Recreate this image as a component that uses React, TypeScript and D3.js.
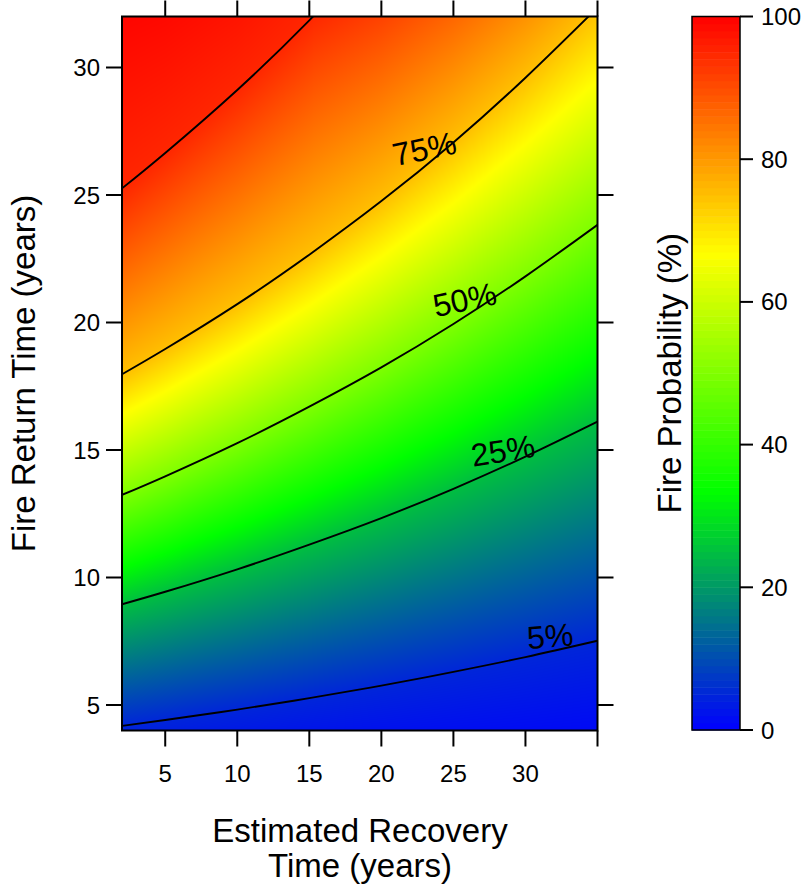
import { useEffect, useRef } from 'react';
import * as d3 from 'd3';

// Recovery time samples (x) and the fire return time (y) where each contour crosses them
const recoveryTimes = [2, 5, 10, 15, 20, 25, 30, 35];
const contourLevels = [5, 25, 50, 75, 95];
const contour5 = [4.18, 4.41, 4.82, 5.27, 5.76, 6.3, 6.88, 7.52];
const contour25 = [8.95, 9.44, 10.32, 11.29, 12.33, 13.48, 14.74, 16.11];
const contour50 = [13.24, 13.97, 15.27, 16.7, 18.24, 19.94, 21.81, 23.83];
const contour75 = [17.97, 18.96, 20.72, 22.66, 24.76, 27.06, 29.6, 32.35];
const contour95 = [25.26, 26.65, 29.12, 31.85, 34.81, null, null, null];
// probability along the bottom (4 yr) and top (32 yr) edges of the plot
const bottomEdgeProb = [4.5, 4.0, 3.3, 2.7, 2.2, 1.8, 1.5, 1.2];
const topEdgeProb = [99.4, 98.9, 97.4, 95.1, 91.4, 86.6, 80.9, 74.2];

// contour labels
const labelLevels = [5, 25, 50, 75];
const labelX = [31.8, 28.6, 26.0, 23.2];
const labelAngle = [-5, -9, -12, -12];

const xTicks = [5, 10, 15, 20, 25, 30, 35];
const xTickLabels = ['5', '10', '15', '20', '25', '30', ''];
const yTicks = [5, 10, 15, 20, 25, 30];
const colorTicks = [0, 20, 40, 60, 80, 100];

const FONT = '"Liberation Sans", Arial, Helvetica, sans-serif';

export default function App() {
  const svgRef = useRef<SVGSVGElement>(null);

  useEffect(() => {
    if (!svgRef.current) return;
    const svg = d3.select(svgRef.current);
    svg.selectAll('*').remove();

    const left = 122, right = 597.5, top = 16.5, bottom = 730.5;
    const x = d3.scaleLinear().domain([2, 35]).range([left, right]);
    const y = d3.scaleLinear().domain([4, 32]).range([bottom, top]);
    const color = d3.scaleLinear<string>()
      .domain([0, 100 / 3, 200 / 3, 100])
      .range(['#0000ff', '#00ff00', '#ffff00', '#ff0000'])
      .interpolate(d3.interpolateRgb)
      .clamp(true);

    const curves = [contour5, contour25, contour50, contour75, contour95];

    // fire return time of a contour at recovery time rx
    const interpAt = (arr: (number | null)[], rx: number) => {
      for (let i = 0; i < recoveryTimes.length - 1; i++) {
        const x0 = recoveryTimes[i], x1 = recoveryTimes[i + 1];
        if (rx >= x0 && rx <= x1) {
          const a = arr[i], b = arr[i + 1];
          if (a == null || b == null) return null;
          return a + (b - a) * (rx - x0) / (x1 - x0);
        }
      }
      return null;
    };

    // --- heat field into a canvas ---
    const w = Math.round(right - left), h = Math.round(bottom - top);
    const canvas = document.createElement('canvas');
    canvas.width = w;
    canvas.height = h;
    const ctx = canvas.getContext('2d')!;
    const img = ctx.createImageData(w, h);
    for (let i = 0; i < w; i++) {
      const rx = x.invert(left + i + 0.5);
      const knots: [number, number][] = [[4, interpAt(bottomEdgeProb, rx)!]];
      curves.forEach((c, k) => {
        const fy = interpAt(c, rx);
        if (fy != null && fy < 32) knots.push([fy, contourLevels[k]]);
      });
      knots.push([32, interpAt(topEdgeProb, rx)!]);
      knots.sort((a, b) => a[0] - b[0]);
      for (let j = 0; j < h; j++) {
        const fy = y.invert(top + j + 0.5);
        let v = knots[0][1];
        for (let k = 0; k < knots.length - 1; k++) {
          if (fy >= knots[k][0] && fy <= knots[k + 1][0]) {
            const t = (fy - knots[k][0]) / (knots[k + 1][0] - knots[k][0]);
            v = knots[k][1] + (knots[k + 1][1] - knots[k][1]) * t;
            break;
          }
          if (fy > knots[k + 1][0]) v = knots[k + 1][1];
        }
        const c = d3.rgb(color(v));
        const p = (j * w + i) * 4;
        img.data[p] = c.r;
        img.data[p + 1] = c.g;
        img.data[p + 2] = c.b;
        img.data[p + 3] = 255;
      }
    }
    ctx.putImageData(img, 0, 0);

    svg.append('image')
      .attr('x', left).attr('y', top)
      .attr('width', right - left).attr('height', bottom - top)
      .attr('preserveAspectRatio', 'none')
      .attr('href', canvas.toDataURL());

    // clip for contour lines
    svg.append('defs').append('clipPath').attr('id', 'plotClip')
      .append('rect')
      .attr('x', left).attr('y', top)
      .attr('width', right - left).attr('height', bottom - top);

    const line = d3.line<[number, number]>()
      .x(d => x(d[0]))
      .y(d => y(d[1]))
      .curve(d3.curveNatural);

    const lines = svg.append('g').attr('clip-path', 'url(#plotClip)');
    curves.forEach(c => {
      const pts = recoveryTimes
        .map((rx, i) => [rx, c[i]] as [number, number | null])
        .filter(d => d[1] != null) as [number, number][];
      lines.append('path')
        .attr('d', line(pts))
        .attr('fill', 'none')
        .attr('stroke', '#000')
        .attr('stroke-width', 1.9);
    });

    // contour labels
    labelLevels.forEach((lv, i) => {
      const c = curves[contourLevels.indexOf(lv)];
      const fy = interpAt(c, labelX[i])!;
      const px = x(labelX[i]), py = y(fy);
      svg.append('text')
        .attr('transform', `translate(${px},${py}) rotate(${labelAngle[i]}) translate(0,-4)`)
        .attr('text-anchor', 'middle')
        .attr('font-family', FONT)
        .attr('font-size', 32)
        .attr('fill', '#000')
        .text(`${lv}%`);
    });

    // frame
    svg.append('rect')
      .attr('x', left).attr('y', top)
      .attr('width', right - left).attr('height', bottom - top)
      .attr('fill', 'none').attr('stroke', '#000').attr('stroke-width', 2);

    const tickLen = 16;
    const axes = svg.append('g').attr('stroke', '#000').attr('stroke-width', 2);
    xTicks.forEach(t => {
      axes.append('line').attr('x1', x(t)).attr('x2', x(t)).attr('y1', bottom).attr('y2', bottom + tickLen);
      axes.append('line').attr('x1', x(t)).attr('x2', x(t)).attr('y1', top).attr('y2', top - tickLen);
    });
    yTicks.forEach(t => {
      axes.append('line').attr('x1', left).attr('x2', left - tickLen).attr('y1', y(t)).attr('y2', y(t));
      axes.append('line').attr('x1', right).attr('x2', right + tickLen).attr('y1', y(t)).attr('y2', y(t));
    });

    const labels = svg.append('g').attr('font-family', FONT).attr('font-size', 24).attr('fill', '#000');
    xTicks.forEach((t, i) => {
      labels.append('text').attr('x', x(t)).attr('y', 782)
        .attr('text-anchor', 'middle').text(xTickLabels[i]);
    });
    yTicks.forEach(t => {
      labels.append('text').attr('x', 100).attr('y', y(t) + 8.5)
        .attr('text-anchor', 'end').text(t);
    });

    // axis titles
    const titles = svg.append('g').attr('font-family', FONT).attr('font-size', 33).attr('fill', '#000');
    titles.append('text').attr('x', 360).attr('y', 842).attr('text-anchor', 'middle').text('Estimated Recovery');
    titles.append('text').attr('x', 360).attr('y', 877).attr('text-anchor', 'middle').text('Time (years)');
    titles.append('text')
      .attr('transform', `translate(35,${(top + bottom) / 2}) rotate(-90)`)
      .attr('text-anchor', 'middle').text('Fire Return Time (years)');

    // --- colour key ---
    const cbLeft = 692, cbRight = 740;
    const cy = d3.scaleLinear().domain([0, 100]).range([730, 16.5]);
    const key = svg.append('g');
    d3.range(0, 100).forEach(v => {
      key.append('rect')
        .attr('x', cbLeft).attr('width', cbRight - cbLeft)
        .attr('y', cy(v + 1)).attr('height', cy(v) - cy(v + 1) + 0.5)
        .attr('fill', color(v + 0.5));
    });
    key.append('rect')
      .attr('x', cbLeft).attr('y', cy(100))
      .attr('width', cbRight - cbLeft).attr('height', cy(0) - cy(100))
      .attr('fill', 'none').attr('stroke', '#000').attr('stroke-width', 1.5);
    colorTicks.forEach(t => {
      key.append('line').attr('x1', cbRight).attr('x2', cbRight + 13)
        .attr('y1', cy(t)).attr('y2', cy(t)).attr('stroke', '#000').attr('stroke-width', 2);
      key.append('text').attr('x', 761).attr('y', cy(t) + 8.5)
        .attr('font-family', FONT).attr('font-size', 24).text(t);
    });
    key.append('text')
      .attr('transform', `translate(681,${(cy(0) + cy(100)) / 2}) rotate(-90)`)
      .attr('text-anchor', 'middle')
      .attr('font-family', FONT).attr('font-size', 33)
      .text('Fire Probability (%)');
  }, []);

  return (
    <svg
      ref={svgRef}
      width={811}
      height={888}
      style={{ position: 'absolute', left: 0, top: 0, background: '#fff' }}
    />
  );
}
